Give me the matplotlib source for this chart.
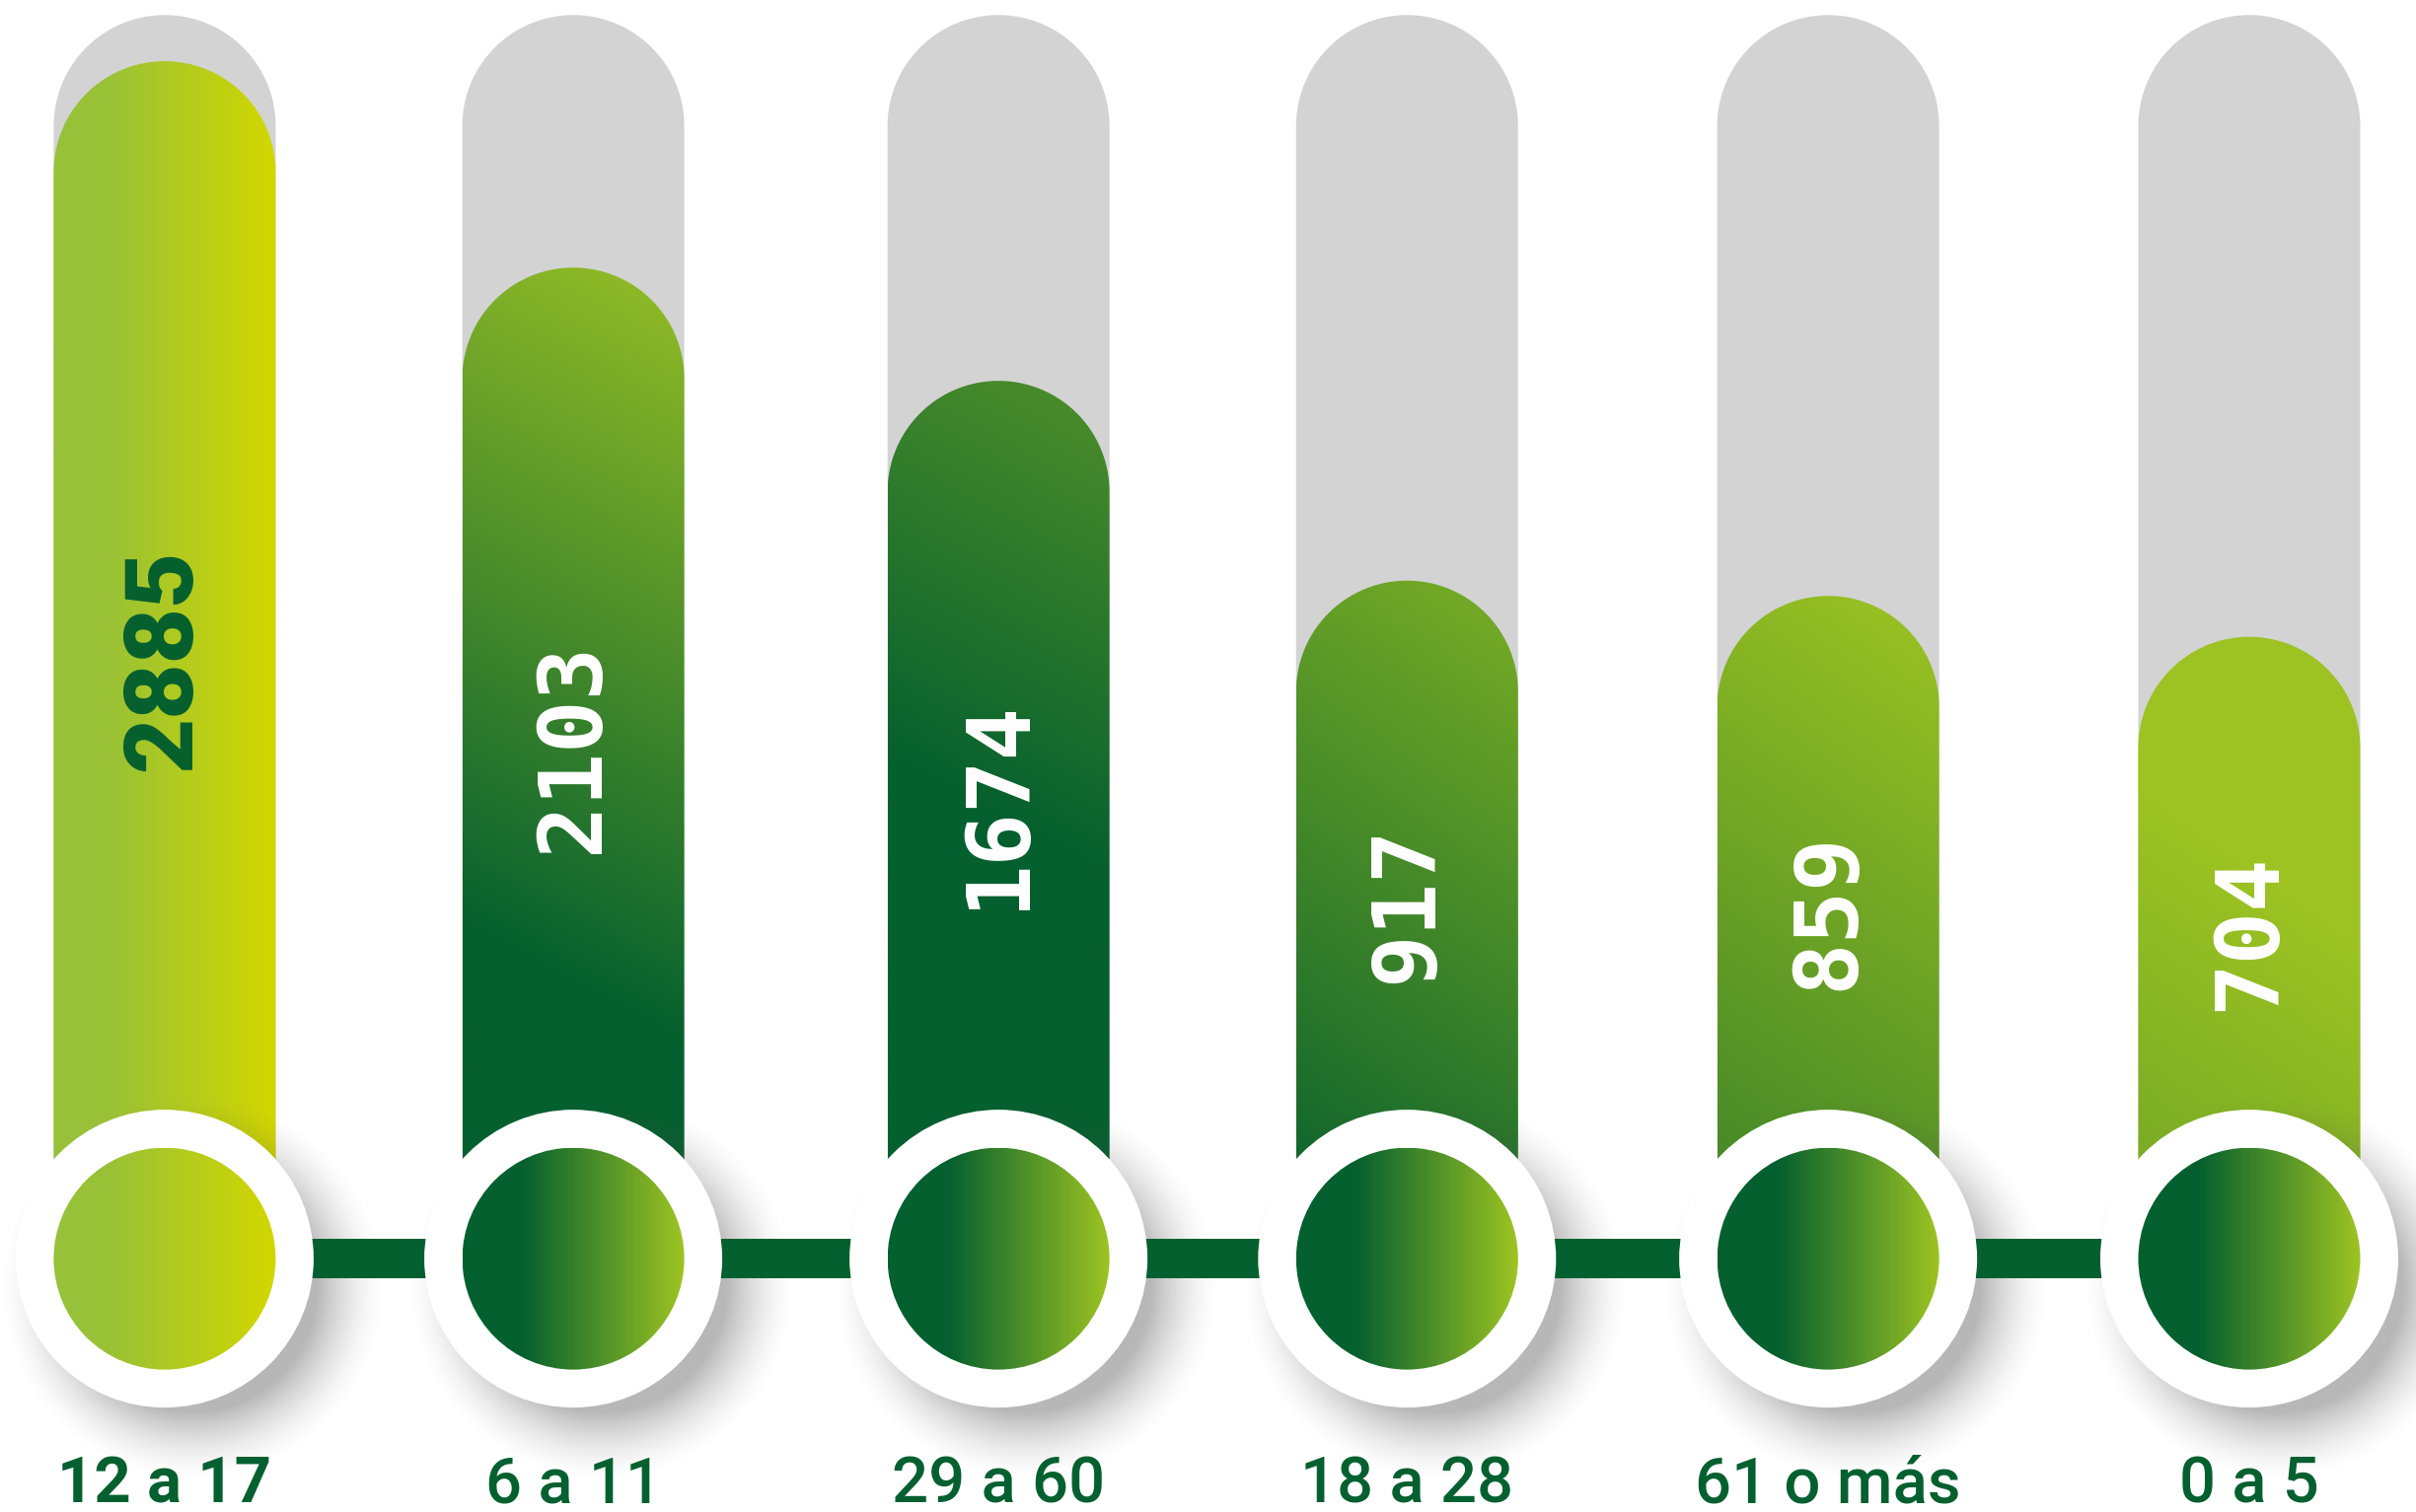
import numpy as np
import matplotlib.pyplot as plt
from matplotlib.patches import Polygon, Ellipse
from matplotlib.colors import to_rgb

# datos
grupos = ['12 a 17', '6 a 11', '29 a 60', '18 a 28', '61 o más', '0 a 5']
personas = [2885, 2103, 1674, 917, 859, 704]
escala_max = 3060  # tope de la barra gris de fondo

VERDE = '#05602f'
GRIS = '#d3d3d3'

# posicion horizontal de cada columna (el dibujo original no es del todo regular)
posiciones = [0, 0.98, 2.0, 2.98, 3.99, 5.0]

# degradados de cada barra: (angulo en grados, [(pos, color), ...])
degradado_barras = [
    (0, [(0, '#97c13a'), (0.25, '#99c236'), (1, '#d3d700')]),
    (62, [(0, VERDE), (0.3, VERDE), (1, '#96be26')]),
    (62, [(0, VERDE), (0.5, VERDE), (1, '#4f8f2a')]),
    (55, [(0, VERDE), (0.15, '#16692d'), (1, '#7aae25')]),
    (55, [(0, '#3c8229'), (1, '#9dc422')]),
    (55, [(0, '#70a526'), (0.6, '#9cc322'), (1, '#9dc422')]),
]
degradado_circulos = [
    [(0, '#97c13a'), (0.25, '#99c236'), (1, '#d3d700')],
    [(0, VERDE), (0.27, VERDE), (1, '#9dc422')],
    [(0, VERDE), (0.27, VERDE), (1, '#9dc422')],
    [(0, VERDE), (0.27, VERDE), (1, '#9dc422')],
    [(0, VERDE), (0.27, VERDE), (1, '#9dc422')],
    [(0, VERDE), (0.27, VERDE), (1, '#9dc422')],
]

W, H = 2449, 1533
fig = plt.figure(figsize=(W / 100, H / 100), dpi=100)
ax = fig.add_axes([0, 0, 1, 1])
X0, X1 = -0.395, 5.400
Y0, Y1 = -2612, 3117
ax.set_xlim(X0, X1)
ax.set_ylim(Y0, Y1)
ax.axis('off')

# pixeles por unidad de datos
px_x = W / (X1 - X0)
px_v = H / (Y1 - Y0)

base_v = -1652        # centro de los circulos
semi = 112.5          # medio ancho de barra (px)
R_anillo = 151        # radio del anillo blanco (px)
label_v = -2510


def ramp(t, stops):
    pos = [s[0] for s in stops]
    cols = np.array([to_rgb(s[1]) for s in stops])
    return np.stack([np.interp(t, pos, cols[:, k]) for k in range(3)], axis=-1)


def grad_img(stops, wpx, hpx, ang):
    nx, ny = max(int(wpx), 2), max(int(hpx), 2)
    xx, yy = np.meshgrid(np.linspace(0, wpx, nx), np.linspace(0, hpx, ny))
    a = np.radians(ang)
    t = xx * np.cos(a) + yy * np.sin(a)
    t = (t - t.min()) / (t.max() - t.min())
    return ramp(t, stops)


def barra(xc, top):
    rx = semi / px_x
    ry = semi / px_v
    th = np.linspace(np.pi, 0, 80)
    arc = np.column_stack([xc + rx * np.cos(th), top - ry + ry * np.sin(th)])
    return np.vstack([[xc - rx, base_v], arc, [xc + rx, base_v]])


# barras grises de fondo y barras de valor
for i, v in enumerate(personas):
    x = posiciones[i]
    ax.add_patch(Polygon(barra(x, escala_max), closed=True, fc=GRIS, ec='none', zorder=1))

    poly = Polygon(barra(x, v), closed=True, fc='none', ec='none', zorder=2)
    ax.add_patch(poly)
    ang, stops = degradado_barras[i]
    hpx = (v - base_v) * px_v
    img = grad_img(stops, 2 * semi, hpx, ang)
    im = ax.imshow(img, extent=(x - semi / px_x, x + semi / px_x, base_v, v),
                   origin='lower', aspect='auto', zorder=2, interpolation='bilinear')
    im.set_clip_path(poly)

    # valor sobre la barra
    if i == 0:
        ax.text(x, (v + base_v) / 2, str(v), rotation=90, ha='center', va='center',
                fontsize=70, color=VERDE, family='Roboto', fontweight='black', zorder=7)
    else:
        ax.text(x, (v + base_v) / 2 + 60, str(v), rotation=90, ha='center', va='center',
                fontsize=64, color='white', family='DejaVu Sans Mono', fontweight='bold', zorder=7)

# sombras de los circulos
for i in range(len(grupos)):
    x = posiciones[i]
    ext = R_anillo + 90
    n = 2 * ext
    xx, yy = np.meshgrid(np.arange(-ext, ext), np.arange(-ext, ext))
    d = np.hypot(xx - 28, yy + 30)
    alpha = 0.40 * np.clip((R_anillo + 45 - d) / 70, 0, 1) ** 1.6
    rgba = np.zeros((n, n, 4))
    rgba[..., :3] = 0.3
    rgba[..., 3] = alpha
    ax.imshow(rgba, extent=(x - ext / px_x, x + ext / px_x, base_v - ext / px_v, base_v + ext / px_v),
              origin='lower', aspect='auto', zorder=3, interpolation='bilinear')

# linea que une los circulos
ax.plot([posiciones[0], posiciones[-1]], [base_v, base_v], color=VERDE, lw=40 * 0.72,
        solid_capstyle='butt', zorder=4)

# anillos blancos y circulos con degradado
for i, g in enumerate(grupos):
    x = posiciones[i]
    ax.add_patch(Ellipse((x, base_v), 2 * R_anillo / px_x, 2 * R_anillo / px_v,
                         fc='white', ec='none', zorder=5))
    circ = Ellipse((x, base_v), 2 * semi / px_x, 2 * semi / px_v, fc='none', ec='none', zorder=6)
    ax.add_patch(circ)
    img = grad_img(degradado_circulos[i], 2 * semi, 2 * semi, 0)
    im = ax.imshow(img, extent=(x - semi / px_x, x + semi / px_x, base_v - semi / px_v, base_v + semi / px_v),
                   origin='lower', aspect='auto', zorder=6, interpolation='bilinear')
    im.set_clip_path(circ)

    ax.text(x, label_v, g, ha='center', va='center', fontsize=47, color=VERDE,
            family='Roboto', fontweight='bold' if i == 0 else 'medium', zorder=7)

fig.savefig('out.png', dpi=100, facecolor='white')
